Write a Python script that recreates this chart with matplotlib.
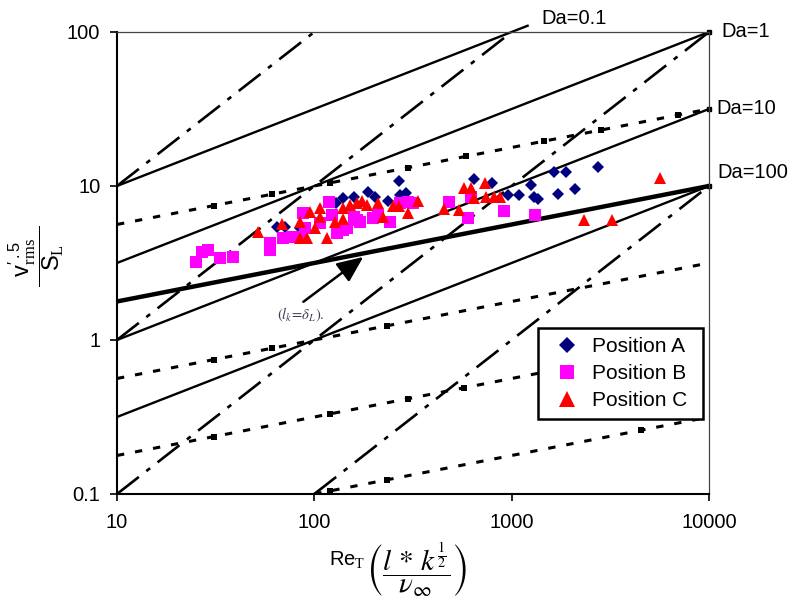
import matplotlib.pyplot as plt
import numpy as np

plt.rcParams['font.family'] = ['Liberation Sans', 'DejaVu Sans']
plt.rcParams['mathtext.fontset'] = 'custom'
plt.rcParams['mathtext.rm'] = 'Liberation Sans'
plt.rcParams['mathtext.it'] = 'Liberation Sans:italic'
plt.rcParams['mathtext.sf'] = 'Liberation Serif'

# measured flame points: turbulent Reynolds number vs v'/S_L
re_a = [64.9, 71.2, 84.9, 129, 140, 158, 188, 204, 235, 267, 273, 290,
        641, 791, 955, 1086, 1248, 1294, 1356, 1633, 1879, 2089, 1713, 2735]
vs_a = [5.42, 5.42, 5.34, 7.76, 8.36, 8.49, 9.14, 8.49, 8.00, 10.8, 8.70, 8.95,
        11.1, 10.4, 8.70, 8.70, 10.1, 8.49, 8.24, 12.3, 12.3, 9.55, 8.82, 13.3]

re_b = [25.2, 27.0, 29.0, 33.3, 38.8, 59.8, 59.8, 69.6, 77.3, 84.9, 87.9, 90.0,
        107, 118, 123, 131, 140, 147, 158, 165, 171, 199, 209, 243, 273, 297,
        318, 479, 598, 619, 910, 1309]
vs_b = [3.21, 3.73, 3.84, 3.41, 3.46, 4.26, 3.84, 4.59, 4.67, 4.67, 6.68, 5.34,
        5.75, 7.87, 6.48, 4.95, 5.18, 5.34, 6.29, 6.01, 5.83, 6.20, 6.48, 5.83,
        7.76, 7.87, 7.76, 7.87, 6.20, 8.49, 6.89, 6.48]

re_c = [52.0, 68.8, 84.9, 84.9, 92.1, 95.4, 101, 107, 107, 116, 128, 140, 140,
        152, 165, 175, 184, 209, 224, 249, 267, 297, 337, 452, 538, 570, 619,
        641, 730, 738, 811, 869, 2319, 3221, 5637]
vs_c = [5.03, 5.66, 5.83, 4.59, 4.59, 6.78, 5.34, 7.20, 6.29, 4.59, 5.83, 7.20,
        6.11, 7.53, 7.76, 8.00, 7.53, 7.76, 6.29, 7.42, 7.42, 6.68, 8.00, 7.09,
        6.99, 9.7, 9.7, 8.36, 10.4, 8.49, 8.49, 8.49, 6.01, 6.01, 11.3]

# regime boundaries of the combustion diagram
da_values = [0.1, 1, 10, 100]
da_labels = ['Da=0.1', 'Da=1', 'Da=10', 'Da=100']
ka_values = [10, 0.1, 0.01, 0.001]
ka_marks = [[31, 61, 120, 297, 586, 1450, 2850, 6960],
            [31, 61, 234],
            [31, 120, 297, 570],
            [120, 234, 4500]]
length_ratios = [1, 10, 100, 1000]

re_min, re_max = 10, 10000
v_min, v_max = 0.1, 100

fig = plt.figure(figsize=(7.9, 6.1), dpi=100)
ax = fig.add_axes([0.1481, 0.1902, 0.7494, 0.7574])
ax.set_xscale('log')
ax.set_yscale('log')

# Da lines: v'/S_L = (Re/Da)^(1/2)
for da in da_values:
    hi = 1220 if da == 0.1 else re_max
    re = np.array([re_min, hi])
    ax.plot(re, np.sqrt(re / da), color='black', lw=1.7, clip_on=(da != 0.1),
            solid_capstyle='butt', zorder=2)
    if da != 0.1:
        ax.plot([re_max], [np.sqrt(re_max / da)], 's', color='black', ms=3,
                clip_on=False, zorder=2)

# Ka lines: v'/S_L = Ka^(1/2) Re^(1/4); Ka = 1 is the thick l_k = delta_L line
re = np.array([re_min, re_max])
ax.plot(re, re ** 0.25, color='black', lw=3.2, solid_capstyle='butt', zorder=2)
for ka, marks in zip(ka_values, ka_marks):
    lo = max(re_min, (v_min / np.sqrt(ka)) ** 4)
    re = np.array([lo, re_max])
    ax.plot(re, np.sqrt(ka) * re ** 0.25, color='black', lw=2.2,
            dashes=(2.4, 3.6), zorder=2)
    m = np.array(marks, dtype=float)
    ax.plot(m, np.sqrt(ka) * m ** 0.25, 's', color='black', ms=4.5,
            mew=0, zorder=2)

# integral scale / flame thickness lines: v'/S_L = Re / (l/delta)
for lr in length_ratios:
    lo = max(re_min, lr * v_min)
    hi = min(re_max, lr * v_max)
    re = np.array([lo, hi])
    ax.plot(re, re / lr, color='black', lw=1.9,
            dashes=(10.5, 3.6, 1.8, 3.6), zorder=2)

ax.plot(re_a, vs_a, 'D', color='#000080', ms=6.0, mew=0, label='Position A',
        zorder=3)
ax.plot(re_b, vs_b, 's', color='#ff00ff', ms=8.0, mew=0, label='Position B',
        zorder=4)
ax.plot(re_c, vs_c, '^', color='#ff0000', ms=9.0, mew=0, label='Position C',
        zorder=5)

offsets = [(9, 5), (9, 0), (5, 0), (6, 10)]
for da, text, off in zip(da_values, da_labels, offsets):
    if da == 0.1:
        xy = (1220, np.sqrt(1220 / da))
    else:
        xy = (re_max, np.sqrt(re_max / da))
    ax.annotate(text, xy=xy, xytext=off, textcoords='offset points',
                ha='left', va='center', fontsize=14.5, annotation_clip=False)

ax.annotate('', xy=(177, 3.46), xytext=(88, 1.77),
            arrowprops=dict(arrowstyle='-|>,head_length=0.8,head_width=0.35',
                            color='black', lw=1.8, mutation_scale=20,
                            shrinkA=0, shrinkB=0))
ax.text(85, 1.45, r'$(l_k\!=\!\delta_L).$', fontsize=10.5, color='#3c3c5a',
        ha='center', va='center', math_fontfamily='stix')

ax.set_xlim(re_min, re_max)
ax.set_ylim(v_min, v_max)
ax.set_xticks([10, 100, 1000, 10000])
ax.set_xticklabels(['10', '100', '1000', '10000'])
ax.set_yticks([0.1, 1, 10, 100])
ax.set_yticklabels(['0.1', '1', '10', '100'])
ax.minorticks_off()
ax.tick_params(axis='both', direction='out', length=5, width=1.2,
               labelsize=14.5, colors='black')
ax.tick_params(axis='x', pad=9)
ax.tick_params(axis='y', pad=7)
for side in ['left', 'bottom']:
    ax.spines[side].set_linewidth(1.5)
for side in ['top', 'right']:
    ax.spines[side].set_linewidth(0.9)
    ax.spines[side].set_color('#444444')

leg = ax.legend(loc='upper left', bbox_to_anchor=(0.711, 0.156, 0.279, 0.203),
                mode='expand', fontsize=15, frameon=True, fancybox=False,
                framealpha=1, edgecolor='black', borderpad=0.45,
                labelspacing=0.37, handlelength=1.9, handletextpad=0.25,
                markerscale=1.3, borderaxespad=0)
leg.get_frame().set_linewidth(1.8)

fig.text(0.046, 0.58,
         r"$\dfrac{\;\;\mathrm{v}^{\prime\,.5}_{\mathsf{rms}}\;\;}"
         r"{\mathrm{S}_{\mathsf{L}}}$",
         rotation=90, ha='center', va='center', fontsize=17)
fig.text(0.463, 0.082, r'Re$_{\mathsf{T}}$', ha='right', va='center',
         fontsize=14.5)
fig.text(0.527, 0.066, r'$\left(\dfrac{l\,*\,k^{\frac{1}{2}}}{\nu_\infty}\right)$',
         ha='center', va='center', fontsize=21, math_fontfamily='stix')

fig.savefig('out.png', dpi=100)
